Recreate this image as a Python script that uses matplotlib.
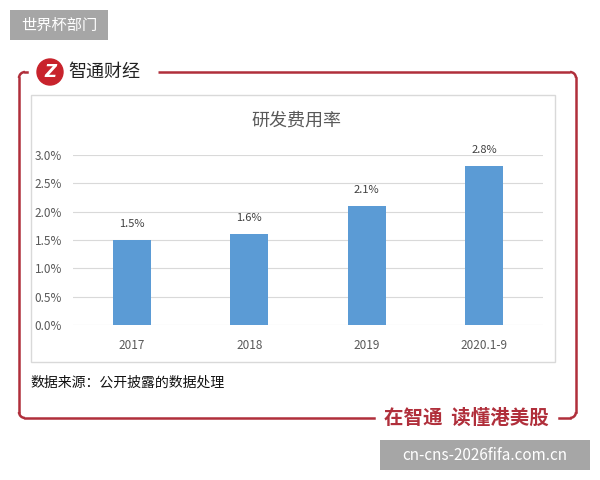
import matplotlib
matplotlib.use("Agg")
import matplotlib.pyplot as plt  # noqa: E402
from matplotlib.patches import Rectangle, Circle, Arc  # noqa: E402
from matplotlib.ticker import FuncFormatter  # noqa: E402

plt.rcParams["font.family"] = ["Noto Sans CJK SC", "DejaVu Sans"]

# data
categories = ["2017", "2018", "2019", "2020.1-9"]
rd_ratio = [1.5, 1.6, 2.1, 2.8]
value_labels = ["1.5%", "1.6%", "2.1%", "2.8%"]
y_ticks = [0.0, 0.5, 1.0, 1.5, 2.0, 2.5, 3.0]

RED = "#b02f3b"
BAR = "#5b9bd5"
GRID = "#d9d9d9"
MUTED = "#595959"
WM_GRAY = "#a6a6a6"

fig = plt.figure(figsize=(6, 4.8), dpi=100, facecolor="white")

# overlay in pixel coords for the frame / decorations
deco = fig.add_axes([0, 0, 1, 1])
deco.set_xlim(0, 600)
deco.set_ylim(480, 0)
deco.axis("off")

# inner chart box
deco.add_patch(Rectangle((31, 95), 524, 267, facecolor="white", edgecolor=GRID, lw=1))

# red frame, rounded corners
r = 6
lw = 1.8
deco.plot([158, 576 - r], [72, 72], color=RED, lw=lw, solid_capstyle="butt")
deco.plot([576, 576], [72 + r, 418 - r], color=RED, lw=lw)
deco.plot([19, 19], [72 + r, 418 - r], color=RED, lw=lw)
deco.plot([19 + r, 27], [72, 72], color=RED, lw=lw)
deco.plot([19 + r, 374], [418, 418], color=RED, lw=lw)
deco.plot([559, 576 - r], [418, 418], color=RED, lw=lw)
for cx, cy, t1, t2 in [(576 - r, 72 + r, 270, 360), (576 - r, 418 - r, 0, 90),
                       (19 + r, 72 + r, 180, 270), (19 + r, 418 - r, 90, 180)]:
    deco.add_patch(Arc((cx, cy), 2 * r, 2 * r, theta1=t1, theta2=t2, color=RED, lw=lw))

# logo
deco.add_patch(Circle((50, 72), 13, color="#c8232c"))
deco.text(50, 72, "Z", color="white", fontsize=12, fontweight="bold", style="italic",
          ha="center", va="center", family="DejaVu Sans")
deco.text(68, 72, "智通财经", color="#222222", fontsize=13, ha="left", va="center")
deco.text(466, 418, "在智通  读懂港美股", color=RED, fontsize=14, fontweight="bold",
          ha="center", va="center")

# watermarks
deco.add_patch(Rectangle((10, 10), 98, 30, facecolor=WM_GRAY, edgecolor="none"))
deco.text(59, 25, "世界杯部门", color="white", fontsize=11, ha="center", va="center")
deco.add_patch(Rectangle((380, 440), 210, 30, facecolor=WM_GRAY, edgecolor="none"))
deco.text(485, 455, "cn-cns-2026fifa.com.cn", color="white", fontsize=11,
          ha="center", va="center")

# chart title + footer
deco.text(296, 121, "研发费用率", color=MUTED, fontsize=13, ha="center", va="center")
deco.text(30, 383, "数据来源：公开披露的数据处理", color="#111111", fontsize=10,
          ha="left", va="center")

# the bar chart itself
ax = fig.add_axes([73 / 600, 1 - 325 / 480, 470 / 600, 170 / 480])
ax.set_facecolor("none")
x = range(len(categories))
bars = ax.bar(x, rd_ratio, width=0.32, color=BAR, zorder=3)
for b, lab in zip(bars, value_labels):
    ax.annotate(lab, (b.get_x() + b.get_width() / 2, b.get_height()),
                textcoords="offset points", xytext=(0, 8), ha="center", va="bottom",
                fontsize=8, color="#404040")
ax.set_xlim(-0.5, len(categories) - 0.5)
ax.set_ylim(0, 3.0)
ax.set_yticks(y_ticks)
ax.yaxis.set_major_formatter(FuncFormatter(lambda v, _: f"{v:.1f}%"))
ax.set_xticks(list(x))
ax.set_xticklabels(categories)
ax.tick_params(axis="both", length=0, labelsize=8.5, colors=MUTED)
ax.tick_params(axis="x", pad=10)
ax.tick_params(axis="y", pad=8)
ax.grid(axis="y", color=GRID, lw=0.8, zorder=0)
for s in ax.spines.values():
    s.set_visible(False)

fig.savefig("out.png", dpi=100, facecolor="white")
